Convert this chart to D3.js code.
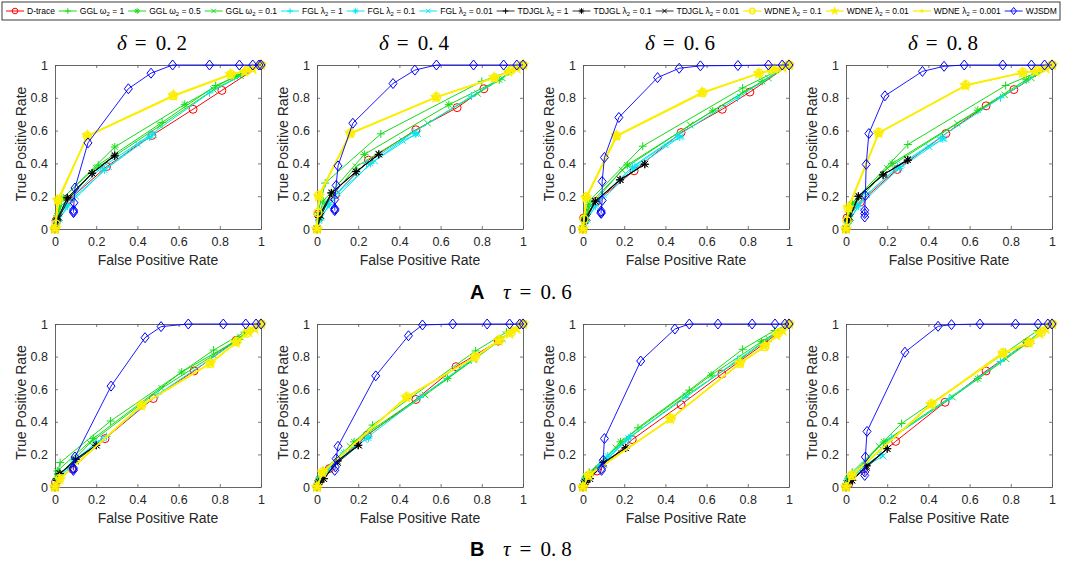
<!DOCTYPE html>
<html><head><meta charset="utf-8">
<script src="https://cdn.jsdelivr.net/npm/d3@7"></script>
<style>body{margin:0;background:#fff} svg{display:block}</style>
</head><body>
<svg id="c" width="1065" height="564"></svg>
<script>
// ---------- data ----------
const deltas = ["0. 2", "0. 4", "0. 6", "0. 8"];
const taus = ["0. 6", "0. 8"];
const rowLetters = ["A", "B"];
const tickValues = [0, 0.2, 0.4, 0.6, 0.8, 1];
const tickLabels = ["0", "0.2", "0.4", "0.6", "0.8", "1"];
const xLabel = "False Positive Rate";
const yLabel = "True Positive Rate";

// legend names: [prefix, subscript symbol, value]
const seriesNames = [
  ["D-trace", null, null],
  ["GGL ", "ω", "1"], ["GGL ", "ω", "0.5"], ["GGL ", "ω", "0.1"],
  ["FGL ", "λ", "1"], ["FGL ", "λ", "0.1"], ["FGL ", "λ", "0.01"],
  ["TDJGL ", "λ", "1"], ["TDJGL ", "λ", "0.1"], ["TDJGL ", "λ", "0.01"],
  ["WDNE ", "λ", "0.1"], ["WDNE ", "λ", "0.01"], ["WDNE ", "λ", "0.001"],
  ["WJSDM", null, null]
];

// each series: 8 panels (row A: delta .2 .4 .6 .8, row B: same), points [FPR, TPR]
const dtrace = [
  [[0,0],[0.005,0.05],[0.07,0.18],[0.25,0.38],[0.47,0.57],[0.67,0.73],[0.81,0.845],[1,1]],
  [[0,0],[0.005,0.09],[0.09,0.21],[0.25,0.42],[0.48,0.605],[0.68,0.74],[0.81,0.855],[1,1]],
  [[0,0],[0.003,0.067],[0.065,0.168],[0.248,0.355],[0.476,0.588],[0.676,0.73],[0.81,0.835],[1,1]],
  [[0,0],[0.005,0.067],[0.07,0.165],[0.249,0.363],[0.485,0.582],[0.68,0.751],[0.815,0.85],[1,1]],
  [[0,0],[0.003,0.03],[0.081,0.113],[0.243,0.297],[0.477,0.543],[0.675,0.712],[0.88,0.9],[1,1]],
  [[0,0],[0.01,0.03],[0.06,0.113],[0.244,0.318],[0.48,0.537],[0.675,0.738],[0.88,0.895],[1,1]],
  [[0,0],[0.011,0.031],[0.068,0.098],[0.239,0.291],[0.476,0.505],[0.674,0.693],[0.88,0.88],[1,1]],
  [[0,0],[0.013,0.02],[0.086,0.112],[0.241,0.28],[0.481,0.52],[0.68,0.712],[0.88,0.885],[1,1]]
];
const ggl1 = [
  [[0,0],[0.005,0.06],[0.03,0.18],[0.21,0.39],[0.52,0.65],[0.78,0.875],[0.9,0.94],[1,1]],
  [[0,0],[0.005,0.1],[0.04,0.28],[0.31,0.58],[0.8,0.9],[0.93,0.96],[1,1]],
  [[0,0],[0.005,0.07],[0.03,0.17],[0.29,0.505],[0.775,0.86],[0.92,0.95],[1,1]],
  [[0,0],[0.005,0.06],[0.03,0.16],[0.3,0.515],[0.775,0.875],[0.92,0.95],[1,1]],
  [[0,0],[0.005,0.05],[0.025,0.15],[0.27,0.405],[0.77,0.84],[0.92,0.95],[1,1]],
  [[0,0],[0.005,0.04],[0.03,0.1],[0.27,0.38],[0.77,0.835],[0.92,0.95],[1,1]],
  [[0,0],[0.005,0.04],[0.03,0.09],[0.267,0.363],[0.516,0.594],[0.775,0.845],[0.93,0.96],[1,1]],
  [[0,0],[0.005,0.04],[0.03,0.09],[0.27,0.39],[0.775,0.825],[0.93,0.96],[1,1]]
];
const ggl05 = [
  [[0,0],[0.01,0.08],[0.04,0.19],[0.29,0.5],[0.63,0.76],[0.87,0.93],[1,1]],
  [[0,0],[0.01,0.08],[0.03,0.17],[0.23,0.455],[0.64,0.758],[0.885,0.91],[1,1]],
  [[0,0],[0.01,0.06],[0.03,0.15],[0.215,0.39],[0.63,0.72],[0.87,0.9],[1,1]],
  [[0,0],[0.01,0.06],[0.03,0.15],[0.224,0.4],[0.64,0.724],[0.875,0.91],[1,1]],
  [[0,0],[0.011,0.098],[0.186,0.297],[0.615,0.705],[0.89,0.905],[1,1]],
  [[0,0],[0.01,0.05],[0.18,0.277],[0.634,0.666],[0.886,0.906],[1,1]],
  [[0,0],[0.01,0.05],[0.182,0.277],[0.622,0.686],[0.866,0.891],[1,1]],
  [[0,0],[0.01,0.05],[0.184,0.276],[0.64,0.665],[0.875,0.888],[1,1]]
];
const ggl01 = [
  [[0,0],[0.01,0.05],[0.03,0.14],[0.2,0.37],[0.51,0.63],[0.77,0.85],[0.9,0.935],[1,1]],
  [[0,0],[0.01,0.06],[0.04,0.15],[0.19,0.38],[0.537,0.645],[0.78,0.826],[0.9,0.92],[1,1]],
  [[0,0],[0.01,0.05],[0.03,0.13],[0.19,0.36],[0.52,0.635],[0.77,0.828],[0.9,0.92],[1,1]],
  [[0,0],[0.01,0.05],[0.03,0.13],[0.2,0.37],[0.54,0.643],[0.77,0.818],[0.9,0.92],[1,1]],
  [[0,0],[0.01,0.06],[0.17,0.27],[0.518,0.605],[0.77,0.809],[0.9,0.92],[1,1]],
  [[0,0],[0.01,0.04],[0.16,0.25],[0.525,0.564],[0.76,0.78],[0.9,0.91],[1,1]],
  [[0,0],[0.01,0.04],[0.16,0.24],[0.5,0.56],[0.77,0.789],[0.9,0.91],[1,1]],
  [[0,0],[0.01,0.04],[0.16,0.25],[0.517,0.551],[0.777,0.786],[0.9,0.9],[1,1]]
];
const fgl1 = [
  [[0,0],[0.01,0.05],[0.05,0.15],[0.22,0.37],[0.47,0.58],[0.75,0.83],[1,1]],
  [[0,0],[0.01,0.06],[0.05,0.16],[0.24,0.4],[0.47,0.59],[0.75,0.81],[1,1]],
  [[0,0],[0.01,0.05],[0.05,0.15],[0.24,0.38],[0.46,0.57],[0.75,0.8],[1,1]],
  [[0,0],[0.01,0.05],[0.05,0.15],[0.25,0.38],[0.46,0.56],[0.75,0.8],[1,1]],
  [[0,0],[0.01,0.05],[0.1,0.17],[0.25,0.31],[0.5,0.57],[0.75,0.78],[1,1]],
  [[0,0],[0.01,0.04],[0.08,0.14],[0.25,0.31],[0.5,0.55],[0.75,0.78],[1,1]],
  [[0,0],[0.01,0.04],[0.08,0.13],[0.23,0.31],[0.5,0.55],[0.75,0.78],[1,1]],
  [[0,0],[0.01,0.04],[0.08,0.12],[0.22,0.3],[0.5,0.54],[0.75,0.77],[1,1]]
];
const fgl01 = [
  [[0,0],[0.01,0.04],[0.06,0.14],[0.24,0.36],[0.46,0.56]],
  [[0,0],[0.01,0.05],[0.06,0.15],[0.26,0.4],[0.48,0.58]],
  [[0,0],[0.01,0.04],[0.06,0.14],[0.25,0.37],[0.47,0.56]],
  [[0,0],[0.01,0.04],[0.06,0.14],[0.26,0.37],[0.47,0.55]],
  [[0,0],[0.01,0.05],[0.09,0.16],[0.2,0.27]],
  [[0,0],[0.01,0.04],[0.13,0.21],[0.25,0.3]],
  [[0,0],[0.01,0.04],[0.12,0.19],[0.22,0.3]],
  [[0,0],[0.01,0.03],[0.09,0.13],[0.17,0.2]]
];
const fgl001 = [
  [[0,0],[0.02,0.06],[0.1,0.2],[0.26,0.38],[0.4,0.52],[0.48,0.575]],
  [[0,0],[0.02,0.07],[0.1,0.22],[0.28,0.415],[0.415,0.54],[0.49,0.58]],
  [[0,0],[0.02,0.06],[0.1,0.21],[0.26,0.39],[0.4,0.513],[0.476,0.564]],
  [[0,0],[0.02,0.06],[0.1,0.21],[0.27,0.394],[0.403,0.502],[0.476,0.551]],
  [[0,0],[0.02,0.05],[0.1,0.16],[0.23,0.3]],
  [[0,0],[0.02,0.05],[0.1,0.15],[0.23,0.29]],
  [[0,0],[0.02,0.05],[0.1,0.15],[0.21,0.28]],
  [[0,0],[0.02,0.04],[0.1,0.13],[0.18,0.19]]
];
const tdjgl1 = [
  [[0,0],[0.01,0.06],[0.06,0.19],[0.18,0.34],[0.29,0.45]],
  [[0,0],[0.01,0.08],[0.07,0.22],[0.19,0.35],[0.3,0.455]],
  [[0,0],[0.01,0.06],[0.06,0.17],[0.18,0.3],[0.3,0.395]],
  [[0,0],[0.01,0.06],[0.06,0.2],[0.18,0.33],[0.3,0.42]],
  [[0,0],[0.01,0.05],[0.024,0.082],[0.1,0.17],[0.2,0.256]],
  [[0,0],[0.01,0.03],[0.033,0.051],[0.1,0.16],[0.2,0.256]],
  [[0,0],[0.01,0.03],[0.033,0.051],[0.1,0.15],[0.207,0.24]],
  [[0,0],[0.01,0.03],[0.03,0.041],[0.1,0.13],[0.2,0.235]]
];
const tdjgl01 = [
  [[0,0],[0.01,0.05],[0.06,0.19],[0.18,0.34],[0.29,0.445]],
  [[0,0],[0.01,0.07],[0.07,0.22],[0.19,0.35],[0.3,0.455]],
  [[0,0],[0.01,0.05],[0.06,0.17],[0.18,0.3],[0.3,0.395]],
  [[0,0],[0.01,0.05],[0.06,0.2],[0.18,0.33],[0.3,0.42]],
  [[0,0],[0.01,0.04],[0.024,0.082],[0.1,0.17],[0.2,0.256]],
  [[0,0],[0.01,0.03],[0.033,0.051],[0.1,0.16],[0.2,0.256]],
  [[0,0],[0.01,0.03],[0.033,0.051],[0.1,0.15],[0.207,0.24]],
  [[0,0],[0.01,0.025],[0.03,0.041],[0.1,0.13],[0.2,0.235]]
];
const tdjgl001 = [
  [[0,0],[0.02,0.07],[0.07,0.19],[0.18,0.34],[0.29,0.45]],
  [[0,0],[0.02,0.08],[0.073,0.221],[0.19,0.348],[0.3,0.457]],
  [[0,0],[0.02,0.07],[0.06,0.168],[0.182,0.3],[0.3,0.396]],
  [[0,0],[0.02,0.07],[0.062,0.2],[0.184,0.333],[0.298,0.424]],
  [[0,0],[0.024,0.082],[0.1,0.16],[0.202,0.256]],
  [[0,0],[0.033,0.051],[0.1,0.15],[0.203,0.256]],
  [[0,0],[0.033,0.051],[0.1,0.14],[0.207,0.24]],
  [[0,0],[0.029,0.041],[0.1,0.12],[0.2,0.235]]
];
const wdne01 = [
  [[0,0],[0.005,0.03],[0.016,0.178],[0.157,0.568],[0.574,0.813],[0.854,0.943],[0.93,0.965],[1,1]],
  [[0,0],[0.004,0.1],[0.008,0.205],[0.163,0.584],[0.58,0.805],[0.862,0.922],[0.943,0.969],[1,1]],
  [[0,0],[0.005,0.06],[0.016,0.195],[0.163,0.568],[0.581,0.832],[0.855,0.95],[0.915,0.97],[1,1]],
  [[0,0],[0.005,0.05],[0.01,0.129],[0.159,0.588],[0.582,0.878],[0.859,0.955],[0.93,0.965],[1,1]],
  [[0,0],[0.024,0.051],[0.421,0.502],[0.752,0.758],[0.882,0.891],[0.93,0.943],[1,1]],
  [[0,0],[0.028,0.092],[0.436,0.553],[0.769,0.799],[0.886,0.902],[0.943,0.949],[1,1]],
  [[0,0],[0.028,0.072],[0.427,0.42],[0.761,0.758],[0.883,0.861],[0.948,0.943],[1,1]],
  [[0,0],[0.029,0.071],[0.416,0.51],[0.761,0.822],[0.891,0.888],[0.948,0.949],[1,1]]
];
const wdne001 = [
  [[0,0],[0.012,0.175],[0.158,0.57],[0.575,0.815],[0.852,0.944],[0.92,0.96],[0.96,0.975],[1,1]],
  [[0,0],[0.008,0.2],[0.162,0.585],[0.578,0.803],[0.86,0.923],[0.93,0.96],[0.97,0.98],[1,1]],
  [[0,0],[0.014,0.19],[0.162,0.57],[0.578,0.833],[0.853,0.948],[0.93,0.975],[0.97,0.985],[1,1]],
  [[0,0],[0.012,0.13],[0.158,0.585],[0.58,0.875],[0.857,0.952],[0.92,0.96],[0.97,0.98],[1,1]],
  [[0,0],[0.022,0.048],[0.418,0.5],[0.755,0.76],[0.878,0.887],[0.94,0.95],[0.97,0.97],[1,1]],
  [[0,0],[0.026,0.09],[0.433,0.55],[0.765,0.795],[0.883,0.898],[0.935,0.94],[0.97,0.97],[1,1]],
  [[0,0],[0.026,0.07],[0.424,0.418],[0.763,0.76],[0.881,0.865],[0.94,0.93],[0.97,0.96],[1,1]],
  [[0,0],[0.027,0.07],[0.413,0.507],[0.763,0.818],[0.888,0.885],[0.94,0.94],[0.97,0.97],[1,1]]
];
const wdne0001 = [
  [[0,0],[0.018,0.175],[0.156,0.565],[0.577,0.811],[0.856,0.941],[0.94,0.97],[1,1]],
  [[0,0],[0.01,0.203],[0.165,0.582],[0.582,0.804],[0.865,0.921],[0.95,0.97],[1,1]],
  [[0,0],[0.018,0.193],[0.165,0.566],[0.583,0.83],[0.857,0.95],[0.94,0.97],[1,1]],
  [[0,0],[0.013,0.127],[0.16,0.586],[0.584,0.876],[0.861,0.953],[0.94,0.97],[1,1]],
  [[0,0],[0.026,0.053],[0.423,0.504],[0.753,0.756],[0.884,0.89],[0.95,0.955],[1,1]],
  [[0,0],[0.03,0.094],[0.438,0.555],[0.77,0.8],[0.888,0.904],[0.95,0.955],[1,1]],
  [[0,0],[0.03,0.074],[0.429,0.422],[0.759,0.756],[0.885,0.863],[0.95,0.945],[1,1]],
  [[0,0],[0.03,0.073],[0.418,0.512],[0.759,0.823],[0.893,0.89],[0.95,0.95],[1,1]]
];
const wjsdm = [
  [[0.09,0.1],[0.09,0.107],[0.09,0.115],[0.092,0.16],[0.097,0.25],[0.16,0.525],[0.356,0.855],[0.466,0.95],[0.571,1],[0.75,1],[0.895,1],[0.96,1],[0.99,1],[1,1]],
  [[0.086,0.112],[0.086,0.119],[0.086,0.125],[0.086,0.18],[0.093,0.266],[0.102,0.385],[0.174,0.645],[0.369,0.887],[0.475,0.969],[0.58,1],[0.76,1],[0.906,1],[0.97,1],[1,1]],
  [[0.088,0.095],[0.088,0.101],[0.088,0.11],[0.093,0.174],[0.093,0.29],[0.104,0.436],[0.174,0.68],[0.362,0.923],[0.467,0.98],[0.57,0.995],[0.752,0.997],[0.9,1],[0.967,1],[1,1]],
  [[0.091,0.073],[0.091,0.094],[0.091,0.114],[0.094,0.204],[0.098,0.394],[0.111,0.582],[0.189,0.812],[0.371,0.961],[0.476,0.992],[0.574,1],[0.761,1],[0.9,1],[0.964,1],[1,1]],
  [[0.089,0.102],[0.089,0.11],[0.089,0.117],[0.097,0.184],[0.272,0.619],[0.437,0.916],[0.515,0.984],[0.647,1],[0.817,1],[0.926,1],[0.976,1],[1,1]],
  [[0.086,0.102],[0.089,0.123],[0.093,0.174],[0.102,0.25],[0.285,0.682],[0.444,0.928],[0.512,0.994],[0.659,1],[0.826,1],[0.935,1],[0.984,1],[1,1]],
  [[0.09,0.102],[0.09,0.113],[0.098,0.164],[0.104,0.297],[0.28,0.773],[0.446,0.969],[0.516,1],[0.655,1],[0.821,1],[0.932,1],[0.98,1],[1,1]],
  [[0.091,0.071],[0.091,0.092],[0.094,0.184],[0.102,0.341],[0.286,0.827],[0.447,0.986],[0.512,0.996],[0.65,1],[0.823,1],[0.932,1],[0.98,1],[1,1]]
];

const allSeries = [dtrace, ggl1, ggl05, ggl01, fgl1, fgl01, fgl001,
                   tdjgl1, tdjgl01, tdjgl001, wdne01, wdne001, wdne0001, wjsdm];

// ---------- styles ----------
const RED = "#ff0000", GRN = "#14dc14", CYN = "#00e8f0", BLK = "#000000", YEL = "#fbee00", BLU = "#0000ff";
const styles = [
  {c: RED, m: "circle", w: 1},
  {c: GRN, m: "plus", w: 1}, {c: GRN, m: "star", w: 1}, {c: GRN, m: "x", w: 1},
  {c: CYN, m: "plus", w: 1}, {c: CYN, m: "star", w: 1}, {c: CYN, m: "x", w: 1},
  {c: BLK, m: "plus", w: 0.8}, {c: BLK, m: "star", w: 0.8}, {c: BLK, m: "x", w: 0.8},
  {c: YEL, m: "ring", w: 1.4}, {c: YEL, m: "hexa", w: 1.4}, {c: YEL, m: "dot", w: 1.4},
  {c: BLU, m: "diamond", w: 0.9}
];

function markerPath(m, s) {
  const k = s || 1;
  switch (m) {
    case "plus": return `M${-4*k},0H${4*k}M0,${-4*k}V${4*k}`;
    case "x": return `M${-3.2*k},${-3.2*k}L${3.2*k},${3.2*k}M${-3.2*k},${3.2*k}L${3.2*k},${-3.2*k}`;
    case "star": return `M${-4*k},0H${4*k}M0,${-4*k}V${4*k}M${-2.9*k},${-2.9*k}L${2.9*k},${2.9*k}M${-2.9*k},${2.9*k}L${2.9*k},${-2.9*k}`;
    case "diamond": return `M0,${-5*k}L${4*k},0L0,${5*k}L${-4*k},0Z`;
  }
  return null;
}
function drawMarker(g, m, color, x, y, s) {
  const k = s || 1;
  if (m === "circle") {
    g.append("circle").attr("cx", x).attr("cy", y).attr("r", 4 * k)
      .attr("fill", "none").attr("stroke", color).attr("stroke-width", 1);
  } else if (m === "ring") {
    g.append("circle").attr("cx", x).attr("cy", y).attr("r", 4 * k)
      .attr("fill", "none").attr("stroke", color).attr("stroke-width", 1.4);
  } else if (m === "dot") {
    g.append("circle").attr("cx", x).attr("cy", y).attr("r", 2.5 * k)
      .attr("fill", color);
  } else if (m === "hexa") {
    g.append("path").attr("transform", `translate(${x},${y})`)
      .attr("d", d3.symbol(d3.symbolStar, 42 * k * k)())
      .attr("fill", color).attr("stroke", color).attr("stroke-width", 0.6);
  } else {
    g.append("path").attr("transform", `translate(${x},${y})`)
      .attr("d", markerPath(m, k)).attr("fill", "none")
      .attr("stroke", color).attr("stroke-width", 1);
  }
}

// ---------- layout ----------
const svg = d3.select("#c");
const lefts = [55, 317, 583, 846];
const pw = 206;
const tops = [65, 324];
const ph = [164, 163];
const axisColor = "#262626";
const sans = "'Liberation Sans', Arial, sans-serif";
const serif = "'Liberation Serif', 'Times New Roman', serif";

for (let r = 0; r < 2; r++) {
  for (let c = 0; c < 4; c++) {
    const p = r * 4 + c;
    const x = d3.scaleLinear().domain([0, 1]).range([lefts[c], lefts[c] + pw]);
    const y = d3.scaleLinear().domain([0, 1]).range([tops[r] + ph[r], tops[r]]);
    const g = svg.append("g");

    const fmt = (d, i) => tickLabels[i];
    const ax = [
      g.append("g").attr("transform", `translate(0,${y(0)})`)
        .call(d3.axisBottom(x).tickValues(tickValues).tickFormat(fmt).tickSizeInner(-3).tickSizeOuter(0).tickPadding(8)),
      g.append("g").attr("transform", `translate(${x(0)},0)`)
        .call(d3.axisLeft(y).tickValues(tickValues).tickFormat(fmt).tickSizeInner(-3).tickSizeOuter(0).tickPadding(7)),
      g.append("g").attr("transform", `translate(0,${y(1)})`)
        .call(d3.axisTop(x).tickValues(tickValues).tickFormat("").tickSizeInner(-3).tickSizeOuter(0)),
      g.append("g").attr("transform", `translate(${x(1)},0)`)
        .call(d3.axisRight(y).tickValues(tickValues).tickFormat("").tickSizeInner(-3).tickSizeOuter(0))
    ];
    ax.forEach(a => {
      a.select(".domain").attr("stroke", "#555").attr("stroke-width", 0.9);
      a.selectAll(".tick line").attr("stroke", "#555").attr("stroke-width", 0.8);
      a.selectAll("text").attr("fill", axisColor).style("font-family", sans).style("font-size", "12.5px");
    });

    allSeries.forEach((s, si) => {
      const st = styles[si];
      const pts = s[p];
      const line = d3.line().x(d => x(d[0])).y(d => y(d[1]));
      g.append("path").attr("d", line(pts)).attr("fill", "none")
        .attr("stroke", st.c).attr("stroke-width", st.w).attr("stroke-linejoin", "round");
      const mg = g.append("g");
      pts.forEach(d => drawMarker(mg, st.m, st.c, x(d[0]), y(d[1])));
    });

    g.append("text").attr("x", (x(0) + x(1)) / 2).attr("y", y(0) + 36)
      .attr("text-anchor", "middle").attr("fill", axisColor)
      .style("font-family", sans).style("font-size", "14px").text(xLabel);
    g.append("text").attr("transform", `translate(${x(0) - 29},${(y(0) + y(1)) / 2 - 3}) rotate(-90)`)
      .attr("text-anchor", "middle").attr("fill", axisColor)
      .style("font-family", sans).style("font-size", "14px").text(yLabel);

    if (r === 0) {
      const t = g.append("text").attr("x", (x(0) + x(1)) / 2 - 6).attr("y", 50)
        .attr("text-anchor", "middle").attr("fill", "#000")
        .style("font-family", serif).style("font-size", "21px");
      t.append("tspan").style("font-style", "italic").text("δ");
      t.append("tspan").attr("dx", 8).text("=");
      t.append("tspan").attr("dx", 9).text(deltas[c].split(" ")[0]);
      t.append("tspan").attr("dx", 5).text(deltas[c].split(" ")[1]);
    }
  }
  const cy = r === 0 ? 299 : 556;
  svg.append("text").attr("x", 470).attr("y", cy)
    .style("font-family", sans).style("font-weight", "bold").style("font-size", "20px")
    .attr("fill", "#000").text(rowLetters[r]);
  const t = svg.append("text").attr("x", 503).attr("y", cy)
    .style("font-family", serif).style("font-size", "21px").attr("fill", "#000");
  t.append("tspan").style("font-style", "italic").text("τ");
  t.append("tspan").attr("dx", 9).text("=");
  t.append("tspan").attr("dx", 9).text(taus[r].split(" ")[0]);
  t.append("tspan").attr("dx", 5).text(taus[r].split(" ")[1]);
}

// ---------- legend ----------
const lg = svg.append("g");
const boxL = 2, boxR = 1060, boxT = 2, boxB = 20;
lg.append("rect").attr("x", boxL).attr("y", boxT).attr("width", boxR - boxL).attr("height", boxB - boxT)
  .attr("fill", "#fff").attr("stroke", "#262626").attr("stroke-width", 0.9);
const lineLen = 18, gapTxt = 3, fs = 8.5;
const items = seriesNames.map((nm, i) => {
  const t = lg.append("text").attr("y", 14).attr("fill", "#000")
    .style("font-family", sans).style("font-size", fs + "px");
  t.append("tspan").text(nm[0]);
  if (nm[1]) {
    t.append("tspan").text(nm[1]);
    t.append("tspan").attr("dy", 2).style("font-size", "6px").text("2");
    t.append("tspan").attr("dy", -2).text(" = " + nm[2]);
  }
  return {t, w: t.node().getComputedTextLength(), i};
});
const natural = d3.sum(items, d => lineLen + gapTxt + d.w);
const gap = (boxR - boxL - 6 - natural) / (items.length - 1 + 0.3);
let cx = boxL + 4;
items.forEach(d => {
  const st = styles[d.i];
  lg.append("line").attr("x1", cx).attr("x2", cx + lineLen).attr("y1", 11).attr("y2", 11)
    .attr("stroke", st.c).attr("stroke-width", Math.min(st.w, 1.2));
  drawMarker(lg, st.m, st.c, cx + lineLen / 2, 11, 0.7);
  d.t.attr("x", cx + lineLen + gapTxt);
  cx += lineLen + gapTxt + d.w + gap;
});
</script></body></html>
